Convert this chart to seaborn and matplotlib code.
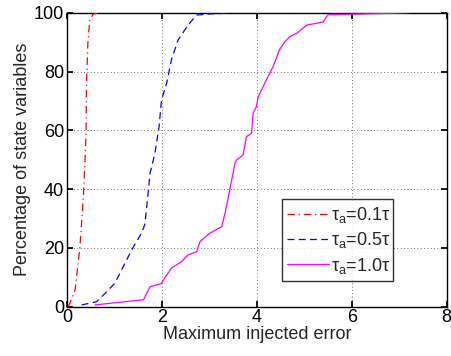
import matplotlib
matplotlib.use("Agg")
import matplotlib.pyplot as plt
import seaborn as sns
import pandas as pd

sns.set_theme(style="white")
plt.rcParams['font.family'] = ['Liberation Sans', 'DejaVu Sans']
plt.rcParams['mathtext.fontset'] = 'custom'
plt.rcParams['mathtext.rm'] = 'Liberation Sans'
plt.rcParams['mathtext.it'] = 'Liberation Sans'

# Data
x_01 = [0.02, 0.06, 0.17, 0.27, 0.34, 0.38, 0.40, 0.41, 0.44, 0.48, 0.55, 0.66]
y_01 = [0.0, 1.2, 5.7, 20.0, 36.0, 50.0, 59.0, 75.0, 90.0, 97.5, 99.5, 100.0]

x_05 = [0.31, 0.62, 0.80, 1.01, 1.22, 1.40, 1.57, 1.64, 1.68, 1.75, 1.85, 1.94, 1.99,
        2.10, 2.20, 2.34, 2.55, 2.73, 3.01, 3.40]
y_05 = [0.6, 1.7, 4.5, 8.0, 14.8, 20.4, 25.0, 28.0, 34.0, 45.4, 52.0, 61.2, 70.3,
        76.0, 84.0, 90.7, 95.8, 99.2, 99.6, 99.8]

x_10 = [0.59, 1.57, 1.61, 1.75, 1.99, 2.03, 2.20, 2.41, 2.55, 2.73, 2.80, 3.01, 3.26,
        3.33, 3.40, 3.54, 3.57, 3.71, 3.78, 3.89, 3.92, 3.99, 4.03, 4.13, 4.20, 4.34,
        4.48, 4.59, 4.69, 4.84, 5.05, 5.26, 5.40, 5.50, 5.96, 6.60, 7.20]
y_10 = [0.6, 2.3, 2.3, 6.8, 7.9, 9.1, 13.1, 15.3, 17.6, 18.7, 22.1, 25.0, 27.2,
        31.8, 37.4, 48.8, 49.9, 51.6, 57.8, 59.0, 65.8, 68.0, 71.4, 74.8, 77.1, 81.6,
        87.5, 90.1, 91.8, 93.0, 95.8, 96.4, 96.9, 99.3, 99.5, 99.7, 100.0]

labels = [r'$\tau_{\rm a}$=0.1$\tau$', r'$\tau_{\rm a}$=0.5$\tau$', r'$\tau_{\rm a}$=1.0$\tau$']
colors = ['#ff0000', '#0000ff', '#ff00ff']
styles = [(0, (6, 3, 1, 3)), (0, (5.5, 3.5)), '-']

x_ticks = [0, 2, 4, 6, 8]
y_ticks = [0, 20, 40, 60, 80, 100]

fig = plt.figure(figsize=(4.51, 3.56), dpi=100)
ax = fig.add_axes([0.1486, 0.1385, 0.8418, 0.8258])

for xs, ys, lab, c, ls in zip([x_01, x_05, x_10], [y_01, y_05, y_10], labels, colors, styles):
    df = pd.DataFrame({'x': xs, 'y': ys})
    sns.lineplot(data=df, x='x', y='y', ax=ax, color=c, linestyle=ls, linewidth=0.9,
                 label=lab, sort=False, estimator=None, zorder=4)

ax.set_xlim(0, 8)
ax.set_ylim(0, 100)
ax.set_xticks(x_ticks)
ax.set_yticks(y_ticks)
ax.tick_params(direction='in', length=4, labelsize=13, colors='black', pad=2,
               top=True, right=True, bottom=True, left=True)
ax.grid(True, linestyle=(0, (1, 3)), color='0.25', linewidth=0.6)
for s in ax.spines.values():
    s.set_color('black')
    s.set_linewidth(1.0)
    s.set_zorder(3)
ax.set_xlabel('Maximum injected error', fontsize=13, labelpad=0)
ax.set_ylabel('Percentage of state variables', fontsize=13, labelpad=2)

leg = ax.legend(loc='lower left', bbox_to_anchor=(0.566, 0.087, 0.293, 0.341), mode='expand',
                fontsize=13, frameon=True, fancybox=False, edgecolor='black',
                handlelength=2.3, handletextpad=0.1, borderpad=0.3, labelspacing=0.3,
                borderaxespad=0)
leg.get_frame().set_linewidth(1.0)
leg.set_zorder(5)

fig.savefig('out.png', dpi=100)
